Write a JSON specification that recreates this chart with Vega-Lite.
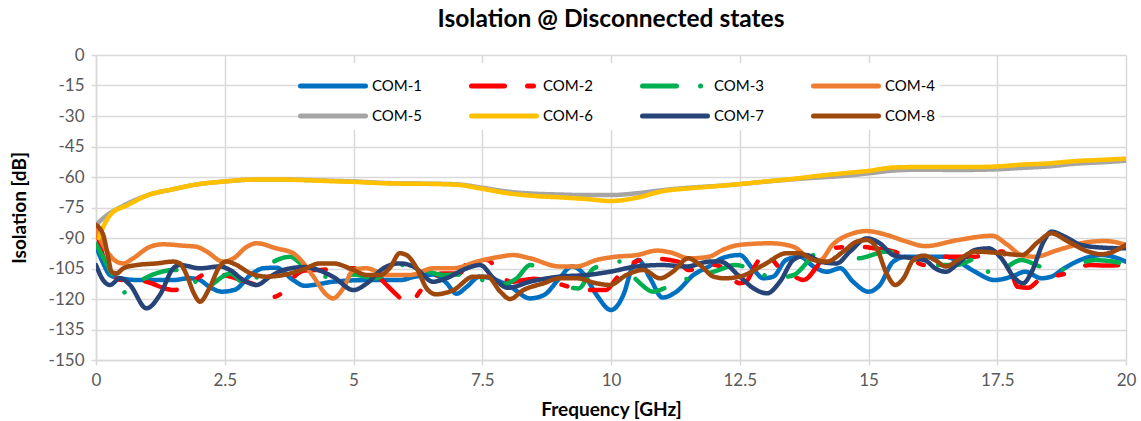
{
  "$schema": "https://vega.github.io/schema/vega-lite/v6.json",
  "width": 1030,
  "height": 305,
  "autosize": "none",
  "padding": {"left": 96, "top": 55, "right": 15, "bottom": 61},
  "background": "white",
  "title": {"text": "Isolation @ Disconnected states", "anchor": "middle", "fontSize": 24.5, "font": "Lato", "fontWeight": "bold", "color": "#000000", "offset": 14},
  "config": {
    "font": "Lato",
    "view": {"stroke": null},
    "axis": {
      "gridColor": "#D9D9D9", "gridWidth": 1.5, "domainColor": "#D9D9D9", "domainWidth": 1.5,
      "tickColor": "#D9D9D9", "tickWidth": 1.5, "tickSize": 5,
      "labelFont": "Lato", "labelFontSize": 17, "labelColor": "#595959", "labelPadding": 7,
      "titleFont": "Lato", "titleFontSize": 19, "titleFontWeight": "bold", "titleColor": "#000000"
    },
    "legend": {
      "orient": "none", "legendX": 214, "legendY": 8, "direction": "horizontal", "columns": 4,
      "symbolType": "M-2,0H2", "symbolSize": 1056, "symbolStrokeWidth": 5,
      "labelFont": "Lato", "labelFontSize": 15, "labelColor": "#000000", "labelOffset": 20,
      "columnPadding": 38, "rowPadding": 1, "fillColor": "white", "padding": 4, "title": null
    }
  },
  "data": {"values": [
    {"s":"COM-1","f":0,"v":-94},{"s":"COM-1","f":0.15,"v":-103},{"s":"COM-1","f":0.27,"v":-108.2},{"s":"COM-1","f":0.47,"v":-109.8},{"s":"COM-1","f":0.85,"v":-110.7},{"s":"COM-1","f":1.5,"v":-110.7},{"s":"COM-1","f":1.8,"v":-109.8},{"s":"COM-1","f":2.0,"v":-110.5},{"s":"COM-1","f":2.2,"v":-114},{"s":"COM-1","f":2.45,"v":-116.4},{"s":"COM-1","f":2.7,"v":-115.4},{"s":"COM-1","f":3.0,"v":-108.2},{"s":"COM-1","f":3.25,"v":-104.9},{"s":"COM-1","f":3.5,"v":-104.6},{"s":"COM-1","f":3.83,"v":-110.7},{"s":"COM-1","f":4.05,"v":-113.5},{"s":"COM-1","f":4.3,"v":-112.8},{"s":"COM-1","f":4.6,"v":-111.5},{"s":"COM-1","f":5.25,"v":-110.7},{"s":"COM-1","f":5.9,"v":-110.7},{"s":"COM-1","f":6.2,"v":-109},{"s":"COM-1","f":6.55,"v":-108},{"s":"COM-1","f":6.8,"v":-112},{"s":"COM-1","f":7.0,"v":-117.4},{"s":"COM-1","f":7.2,"v":-114},{"s":"COM-1","f":7.45,"v":-109},{"s":"COM-1","f":7.85,"v":-111.5},{"s":"COM-1","f":8.05,"v":-114},{"s":"COM-1","f":8.43,"v":-119.7},{"s":"COM-1","f":8.7,"v":-118},{"s":"COM-1","f":9.0,"v":-109.8},{"s":"COM-1","f":9.24,"v":-104},{"s":"COM-1","f":9.46,"v":-107.4},{"s":"COM-1","f":9.72,"v":-118},{"s":"COM-1","f":10.0,"v":-125.4},{"s":"COM-1","f":10.24,"v":-118},{"s":"COM-1","f":10.43,"v":-103.3},{"s":"COM-1","f":10.53,"v":-100.8},{"s":"COM-1","f":10.76,"v":-109.8},{"s":"COM-1","f":11.0,"v":-119.3},{"s":"COM-1","f":11.27,"v":-116.4},{"s":"COM-1","f":11.6,"v":-108.2},{"s":"COM-1","f":11.9,"v":-104},{"s":"COM-1","f":12.15,"v":-100},{"s":"COM-1","f":12.5,"v":-98.4},{"s":"COM-1","f":12.77,"v":-105.7},{"s":"COM-1","f":12.96,"v":-109.8},{"s":"COM-1","f":13.15,"v":-109},{"s":"COM-1","f":13.4,"v":-100.8},{"s":"COM-1","f":13.67,"v":-99.2},{"s":"COM-1","f":13.93,"v":-104},{"s":"COM-1","f":14.19,"v":-106.6},{"s":"COM-1","f":14.45,"v":-104.9},{"s":"COM-1","f":14.7,"v":-111.5},{"s":"COM-1","f":15.0,"v":-116.4},{"s":"COM-1","f":15.22,"v":-113.1},{"s":"COM-1","f":15.48,"v":-101.6},{"s":"COM-1","f":15.74,"v":-99.2},{"s":"COM-1","f":16.1,"v":-99.2},{"s":"COM-1","f":16.5,"v":-99.2},{"s":"COM-1","f":16.74,"v":-101.6},{"s":"COM-1","f":17.07,"v":-106.6},{"s":"COM-1","f":17.45,"v":-110.7},{"s":"COM-1","f":17.78,"v":-109},{"s":"COM-1","f":18.04,"v":-106.6},{"s":"COM-1","f":18.36,"v":-109.8},{"s":"COM-1","f":18.55,"v":-109},{"s":"COM-1","f":18.8,"v":-104.9},{"s":"COM-1","f":19.2,"v":-100},{"s":"COM-1","f":19.53,"v":-98.4},{"s":"COM-1","f":20,"v":-101.6},

    {"s":"COM-2","f":0,"v":-85},{"s":"COM-2","f":0.15,"v":-100},{"s":"COM-2","f":0.3,"v":-108},{"s":"COM-2","f":0.5,"v":-110.7},{"s":"COM-2","f":0.8,"v":-110.7},{"s":"COM-2","f":1.1,"v":-112.5},{"s":"COM-2","f":1.3,"v":-114.5},{"s":"COM-2","f":1.5,"v":-115.6},{"s":"COM-2","f":1.76,"v":-114},{"s":"COM-2","f":2.08,"v":-108.2},{"s":"COM-2","f":2.3,"v":-107.5},{"s":"COM-2","f":2.6,"v":-109},{"s":"COM-2","f":2.85,"v":-111},{"s":"COM-2","f":3.1,"v":-113.1},{"s":"COM-2","f":3.3,"v":-117},{"s":"COM-2","f":3.44,"v":-119},{"s":"COM-2","f":3.65,"v":-116},{"s":"COM-2","f":3.85,"v":-109},{"s":"COM-2","f":4.05,"v":-106},{"s":"COM-2","f":4.35,"v":-105.7},{"s":"COM-2","f":4.97,"v":-104.9},{"s":"COM-2","f":5.35,"v":-105.7},{"s":"COM-2","f":5.6,"v":-112},{"s":"COM-2","f":5.84,"v":-118},{"s":"COM-2","f":6.0,"v":-121.5},{"s":"COM-2","f":6.1,"v":-122},{"s":"COM-2","f":6.3,"v":-116},{"s":"COM-2","f":6.55,"v":-109.8},{"s":"COM-2","f":6.7,"v":-107.4},{"s":"COM-2","f":7.07,"v":-107.4},{"s":"COM-2","f":7.2,"v":-102.5},{"s":"COM-2","f":7.6,"v":-100.8},{"s":"COM-2","f":7.85,"v":-108},{"s":"COM-2","f":8.05,"v":-111.5},{"s":"COM-2","f":8.5,"v":-110},{"s":"COM-2","f":8.9,"v":-112},{"s":"COM-2","f":9.5,"v":-115.6},{"s":"COM-2","f":9.9,"v":-115.6},{"s":"COM-2","f":10.1,"v":-110},{"s":"COM-2","f":10.3,"v":-104},{"s":"COM-2","f":10.5,"v":-101.5},{"s":"COM-2","f":10.7,"v":-100},{"s":"COM-2","f":11.3,"v":-101.6},{"s":"COM-2","f":11.5,"v":-105.7},{"s":"COM-2","f":11.8,"v":-104.5},{"s":"COM-2","f":12.0,"v":-103.3},{"s":"COM-2","f":12.2,"v":-105},{"s":"COM-2","f":12.5,"v":-112.3},{"s":"COM-2","f":12.64,"v":-111},{"s":"COM-2","f":12.77,"v":-105},{"s":"COM-2","f":13.0,"v":-97.5},{"s":"COM-2","f":13.25,"v":-104},{"s":"COM-2","f":13.5,"v":-108},{"s":"COM-2","f":13.74,"v":-110.7},{"s":"COM-2","f":14.0,"v":-104},{"s":"COM-2","f":14.25,"v":-95},{"s":"COM-2","f":14.84,"v":-94.3},{"s":"COM-2","f":15.1,"v":-95},{"s":"COM-2","f":15.5,"v":-96.7},{"s":"COM-2","f":15.8,"v":-100},{"s":"COM-2","f":16.1,"v":-103.3},{"s":"COM-2","f":16.5,"v":-99.2},{"s":"COM-2","f":17.07,"v":-99.2},{"s":"COM-2","f":17.4,"v":-96.7},{"s":"COM-2","f":17.6,"v":-96.7},{"s":"COM-2","f":17.75,"v":-105},{"s":"COM-2","f":17.9,"v":-114},{"s":"COM-2","f":18.1,"v":-114.5},{"s":"COM-2","f":18.36,"v":-109.8},{"s":"COM-2","f":18.75,"v":-108},{"s":"COM-2","f":19.3,"v":-103.3},{"s":"COM-2","f":19.6,"v":-103.5},{"s":"COM-2","f":20,"v":-103.3},

    {"s":"COM-3","f":0,"v":-93},{"s":"COM-3","f":0.15,"v":-100},{"s":"COM-3","f":0.27,"v":-105.7},{"s":"COM-3","f":0.52,"v":-117},{"s":"COM-3","f":0.7,"v":-113},{"s":"COM-3","f":0.82,"v":-111.5},{"s":"COM-3","f":1.1,"v":-108},{"s":"COM-3","f":1.5,"v":-105.7},{"s":"COM-3","f":1.8,"v":-107},{"s":"COM-3","f":2.08,"v":-116.4},{"s":"COM-3","f":2.3,"v":-112},{"s":"COM-3","f":2.6,"v":-107.4},{"s":"COM-3","f":2.96,"v":-114},{"s":"COM-3","f":3.2,"v":-106.6},{"s":"COM-3","f":3.5,"v":-101},{"s":"COM-3","f":3.77,"v":-99.2},{"s":"COM-3","f":4.0,"v":-103},{"s":"COM-3","f":4.4,"v":-109},{"s":"COM-3","f":4.7,"v":-109},{"s":"COM-3","f":5.0,"v":-108},{"s":"COM-3","f":5.4,"v":-109.8},{"s":"COM-3","f":5.65,"v":-107},{"s":"COM-3","f":5.8,"v":-103.3},{"s":"COM-3","f":6.1,"v":-103.3},{"s":"COM-3","f":6.4,"v":-106},{"s":"COM-3","f":6.75,"v":-108.2},{"s":"COM-3","f":7.0,"v":-108},{"s":"COM-3","f":7.3,"v":-109},{"s":"COM-3","f":7.85,"v":-113},{"s":"COM-3","f":8.17,"v":-109.8},{"s":"COM-3","f":8.43,"v":-103.3},{"s":"COM-3","f":8.7,"v":-106},{"s":"COM-3","f":8.95,"v":-112.3},{"s":"COM-3","f":9.37,"v":-114.8},{"s":"COM-3","f":9.66,"v":-105},{"s":"COM-3","f":10.17,"v":-101.6},{"s":"COM-3","f":10.5,"v":-110.7},{"s":"COM-3","f":10.82,"v":-116.4},{"s":"COM-3","f":11.1,"v":-114},{"s":"COM-3","f":11.4,"v":-110.7},{"s":"COM-3","f":11.78,"v":-108.2},{"s":"COM-3","f":12.1,"v":-105.7},{"s":"COM-3","f":12.4,"v":-103.3},{"s":"COM-3","f":12.8,"v":-106},{"s":"COM-3","f":13.15,"v":-109.8},{"s":"COM-3","f":13.55,"v":-108.2},{"s":"COM-3","f":14.06,"v":-96.7},{"s":"COM-3","f":14.4,"v":-100},{"s":"COM-3","f":14.8,"v":-100},{"s":"COM-3","f":15.35,"v":-96.7},{"s":"COM-3","f":15.8,"v":-100},{"s":"COM-3","f":16.3,"v":-103.3},{"s":"COM-3","f":16.7,"v":-103.3},{"s":"COM-3","f":17.13,"v":-100},{"s":"COM-3","f":17.4,"v":-108.2},{"s":"COM-3","f":17.97,"v":-100.8},{"s":"COM-3","f":18.33,"v":-104},{"s":"COM-3","f":18.7,"v":-105.7},{"s":"COM-3","f":19.4,"v":-100.8},{"s":"COM-3","f":19.75,"v":-101.6},{"s":"COM-3","f":20,"v":-103},

    {"s":"COM-4","f":0,"v":-86},{"s":"COM-4","f":0.2,"v":-96},{"s":"COM-4","f":0.4,"v":-101.6},{"s":"COM-4","f":0.53,"v":-102.5},{"s":"COM-4","f":0.72,"v":-100},{"s":"COM-4","f":1.05,"v":-94.3},{"s":"COM-4","f":1.3,"v":-93.1},{"s":"COM-4","f":1.7,"v":-93.8},{"s":"COM-4","f":1.95,"v":-94.3},{"s":"COM-4","f":2.15,"v":-96.7},{"s":"COM-4","f":2.47,"v":-101.6},{"s":"COM-4","f":2.67,"v":-100},{"s":"COM-4","f":2.93,"v":-94.3},{"s":"COM-4","f":3.12,"v":-92.6},{"s":"COM-4","f":3.5,"v":-95.1},{"s":"COM-4","f":3.83,"v":-97.5},{"s":"COM-4","f":3.98,"v":-101},{"s":"COM-4","f":4.2,"v":-108.2},{"s":"COM-4","f":4.48,"v":-118},{"s":"COM-4","f":4.6,"v":-119.7},{"s":"COM-4","f":4.8,"v":-114.8},{"s":"COM-4","f":5.0,"v":-105.7},{"s":"COM-4","f":5.25,"v":-104.9},{"s":"COM-4","f":5.65,"v":-108.2},{"s":"COM-4","f":6.1,"v":-108.2},{"s":"COM-4","f":6.55,"v":-104.9},{"s":"COM-4","f":6.94,"v":-104.9},{"s":"COM-4","f":7.4,"v":-101.6},{"s":"COM-4","f":7.85,"v":-99.2},{"s":"COM-4","f":8.1,"v":-98.4},{"s":"COM-4","f":8.43,"v":-100},{"s":"COM-4","f":9.0,"v":-104},{"s":"COM-4","f":9.33,"v":-104},{"s":"COM-4","f":9.72,"v":-100.8},{"s":"COM-4","f":10.1,"v":-99.2},{"s":"COM-4","f":10.5,"v":-98.4},{"s":"COM-4","f":10.9,"v":-96.2},{"s":"COM-4","f":11.15,"v":-97.1},{"s":"COM-4","f":11.53,"v":-100},{"s":"COM-4","f":11.9,"v":-99.2},{"s":"COM-4","f":12.2,"v":-95.5},{"s":"COM-4","f":12.5,"v":-93.4},{"s":"COM-4","f":13.1,"v":-92.6},{"s":"COM-4","f":13.54,"v":-94.3},{"s":"COM-4","f":13.86,"v":-100},{"s":"COM-4","f":14.06,"v":-100.8},{"s":"COM-4","f":14.3,"v":-93.4},{"s":"COM-4","f":14.7,"v":-87.7},{"s":"COM-4","f":14.96,"v":-86.6},{"s":"COM-4","f":15.35,"v":-88.5},{"s":"COM-4","f":15.74,"v":-91.8},{"s":"COM-4","f":16.1,"v":-94},{"s":"COM-4","f":16.74,"v":-91},{"s":"COM-4","f":17.4,"v":-88.9},{"s":"COM-4","f":17.7,"v":-93.4},{"s":"COM-4","f":17.97,"v":-98.4},{"s":"COM-4","f":18.23,"v":-99.2},{"s":"COM-4","f":18.68,"v":-95.9},{"s":"COM-4","f":19.33,"v":-91.8},{"s":"COM-4","f":19.6,"v":-91.5},{"s":"COM-4","f":20,"v":-93.4},

    {"s":"COM-5","f":0,"v":-83.6},{"s":"COM-5","f":0.2,"v":-79},{"s":"COM-5","f":0.5,"v":-74.5},{"s":"COM-5","f":1.0,"v":-69},{"s":"COM-5","f":1.5,"v":-66},{"s":"COM-5","f":2.0,"v":-63.5},{"s":"COM-5","f":2.5,"v":-62.2},{"s":"COM-5","f":3.0,"v":-61.3},{"s":"COM-5","f":3.5,"v":-61.2},{"s":"COM-5","f":4,"v":-61.4},{"s":"COM-5","f":4.5,"v":-61.8},{"s":"COM-5","f":5,"v":-62.2},{"s":"COM-5","f":5.5,"v":-62.8},{"s":"COM-5","f":6,"v":-63.2},{"s":"COM-5","f":6.5,"v":-63.3},{"s":"COM-5","f":7,"v":-63.6},{"s":"COM-5","f":7.5,"v":-65.3},{"s":"COM-5","f":8,"v":-67.2},{"s":"COM-5","f":8.5,"v":-68.2},{"s":"COM-5","f":9,"v":-68.6},{"s":"COM-5","f":9.5,"v":-68.9},{"s":"COM-5","f":10,"v":-68.9},{"s":"COM-5","f":10.5,"v":-68},{"s":"COM-5","f":11,"v":-66.5},{"s":"COM-5","f":11.5,"v":-65.3},{"s":"COM-5","f":12,"v":-64.5},{"s":"COM-5","f":12.5,"v":-63.5},{"s":"COM-5","f":13,"v":-62.3},{"s":"COM-5","f":13.5,"v":-61.2},{"s":"COM-5","f":14,"v":-60.3},{"s":"COM-5","f":14.5,"v":-59.5},{"s":"COM-5","f":15,"v":-58.2},{"s":"COM-5","f":15.5,"v":-56.8},{"s":"COM-5","f":16,"v":-56.4},{"s":"COM-5","f":16.5,"v":-56.5},{"s":"COM-5","f":17,"v":-56.5},{"s":"COM-5","f":17.5,"v":-56.2},{"s":"COM-5","f":18,"v":-55.5},{"s":"COM-5","f":18.5,"v":-54.8},{"s":"COM-5","f":19,"v":-53.5},{"s":"COM-5","f":19.5,"v":-52.8},{"s":"COM-5","f":20,"v":-52},

    {"s":"COM-6","f":0.05,"v":-90},{"s":"COM-6","f":0.15,"v":-84},{"s":"COM-6","f":0.3,"v":-78},{"s":"COM-6","f":0.6,"v":-74},{"s":"COM-6","f":1.0,"v":-69},{"s":"COM-6","f":1.5,"v":-66},{"s":"COM-6","f":2.0,"v":-63.5},{"s":"COM-6","f":2.5,"v":-62.2},{"s":"COM-6","f":3.0,"v":-61.3},{"s":"COM-6","f":3.5,"v":-61.2},{"s":"COM-6","f":4,"v":-61.5},{"s":"COM-6","f":4.5,"v":-62},{"s":"COM-6","f":5,"v":-62.4},{"s":"COM-6","f":5.5,"v":-63},{"s":"COM-6","f":6,"v":-63.3},{"s":"COM-6","f":6.5,"v":-63.4},{"s":"COM-6","f":7,"v":-63.8},{"s":"COM-6","f":7.5,"v":-65.8},{"s":"COM-6","f":8,"v":-68},{"s":"COM-6","f":8.5,"v":-69.3},{"s":"COM-6","f":9,"v":-70},{"s":"COM-6","f":9.5,"v":-70.8},{"s":"COM-6","f":10,"v":-71.8},{"s":"COM-6","f":10.5,"v":-70.2},{"s":"COM-6","f":11,"v":-67},{"s":"COM-6","f":11.5,"v":-65.6},{"s":"COM-6","f":12,"v":-64.6},{"s":"COM-6","f":12.5,"v":-63.5},{"s":"COM-6","f":13,"v":-62.2},{"s":"COM-6","f":13.5,"v":-61},{"s":"COM-6","f":14,"v":-59.5},{"s":"COM-6","f":14.5,"v":-58.2},{"s":"COM-6","f":15,"v":-57},{"s":"COM-6","f":15.5,"v":-55.3},{"s":"COM-6","f":16,"v":-55.1},{"s":"COM-6","f":16.5,"v":-55.1},{"s":"COM-6","f":17,"v":-55.1},{"s":"COM-6","f":17.5,"v":-54.8},{"s":"COM-6","f":18,"v":-53.9},{"s":"COM-6","f":18.5,"v":-53.3},{"s":"COM-6","f":19,"v":-52.2},{"s":"COM-6","f":19.5,"v":-51.6},{"s":"COM-6","f":20,"v":-51},

    {"s":"COM-7","f":0,"v":-103.3},{"s":"COM-7","f":0.12,"v":-110},{"s":"COM-7","f":0.27,"v":-113.1},{"s":"COM-7","f":0.47,"v":-109.8},{"s":"COM-7","f":0.66,"v":-113.1},{"s":"COM-7","f":0.98,"v":-124.6},{"s":"COM-7","f":1.24,"v":-118},{"s":"COM-7","f":1.5,"v":-104.9},{"s":"COM-7","f":1.63,"v":-103.3},{"s":"COM-7","f":2.02,"v":-104.9},{"s":"COM-7","f":2.4,"v":-104},{"s":"COM-7","f":2.6,"v":-105.7},{"s":"COM-7","f":2.86,"v":-110.7},{"s":"COM-7","f":3.12,"v":-113.1},{"s":"COM-7","f":3.38,"v":-109},{"s":"COM-7","f":3.64,"v":-105.7},{"s":"COM-7","f":4.06,"v":-104.3},{"s":"COM-7","f":4.2,"v":-104.9},{"s":"COM-7","f":4.6,"v":-109},{"s":"COM-7","f":5.0,"v":-115.6},{"s":"COM-7","f":5.26,"v":-112.3},{"s":"COM-7","f":5.58,"v":-104.9},{"s":"COM-7","f":5.9,"v":-102.5},{"s":"COM-7","f":6.16,"v":-104},{"s":"COM-7","f":6.55,"v":-111.5},{"s":"COM-7","f":6.8,"v":-109.8},{"s":"COM-7","f":7.2,"v":-104.9},{"s":"COM-7","f":7.46,"v":-103.3},{"s":"COM-7","f":7.72,"v":-109.8},{"s":"COM-7","f":8.0,"v":-114.5},{"s":"COM-7","f":8.43,"v":-111.5},{"s":"COM-7","f":9.0,"v":-109},{"s":"COM-7","f":9.53,"v":-108.2},{"s":"COM-7","f":9.98,"v":-106.6},{"s":"COM-7","f":10.5,"v":-104},{"s":"COM-7","f":11,"v":-103.3},{"s":"COM-7","f":11.47,"v":-104},{"s":"COM-7","f":11.92,"v":-101.6},{"s":"COM-7","f":12.12,"v":-101.6},{"s":"COM-7","f":12.5,"v":-109},{"s":"COM-7","f":12.77,"v":-114.8},{"s":"COM-7","f":13.03,"v":-117.2},{"s":"COM-7","f":13.28,"v":-111.5},{"s":"COM-7","f":13.54,"v":-100.8},{"s":"COM-7","f":13.8,"v":-98.4},{"s":"COM-7","f":14.06,"v":-101.6},{"s":"COM-7","f":14.38,"v":-102.5},{"s":"COM-7","f":14.64,"v":-96.7},{"s":"COM-7","f":14.97,"v":-90.2},{"s":"COM-7","f":15.22,"v":-92.6},{"s":"COM-7","f":15.48,"v":-98.4},{"s":"COM-7","f":15.87,"v":-100},{"s":"COM-7","f":16.1,"v":-101},{"s":"COM-7","f":16.3,"v":-105},{"s":"COM-7","f":16.5,"v":-106.6},{"s":"COM-7","f":16.74,"v":-102.5},{"s":"COM-7","f":17.07,"v":-95.9},{"s":"COM-7","f":17.33,"v":-95.1},{"s":"COM-7","f":17.58,"v":-100},{"s":"COM-7","f":17.84,"v":-109.8},{"s":"COM-7","f":18.0,"v":-112.3},{"s":"COM-7","f":18.17,"v":-106.6},{"s":"COM-7","f":18.4,"v":-91.8},{"s":"COM-7","f":18.55,"v":-86.9},{"s":"COM-7","f":18.81,"v":-89.3},{"s":"COM-7","f":19.13,"v":-93.4},{"s":"COM-7","f":19.59,"v":-94.8},{"s":"COM-7","f":20,"v":-95.1},

    {"s":"COM-8","f":0,"v":-83.6},{"s":"COM-8","f":0.14,"v":-88.5},{"s":"COM-8","f":0.24,"v":-100},{"s":"COM-8","f":0.3,"v":-106.6},{"s":"COM-8","f":0.4,"v":-107.4},{"s":"COM-8","f":0.53,"v":-104.9},{"s":"COM-8","f":0.79,"v":-103.3},{"s":"COM-8","f":1.18,"v":-102.5},{"s":"COM-8","f":1.5,"v":-101.6},{"s":"COM-8","f":1.63,"v":-102.5},{"s":"COM-8","f":1.76,"v":-108.2},{"s":"COM-8","f":1.9,"v":-117.2},{"s":"COM-8","f":2.02,"v":-121.3},{"s":"COM-8","f":2.2,"v":-114.8},{"s":"COM-8","f":2.4,"v":-104},{"s":"COM-8","f":2.54,"v":-101.6},{"s":"COM-8","f":2.73,"v":-103.3},{"s":"COM-8","f":3.0,"v":-107.4},{"s":"COM-8","f":3.31,"v":-109},{"s":"COM-8","f":3.64,"v":-108.2},{"s":"COM-8","f":4.0,"v":-105.7},{"s":"COM-8","f":4.35,"v":-102.5},{"s":"COM-8","f":4.6,"v":-102.5},{"s":"COM-8","f":4.93,"v":-104.9},{"s":"COM-8","f":5.26,"v":-108.2},{"s":"COM-8","f":5.52,"v":-108.2},{"s":"COM-8","f":5.7,"v":-104.9},{"s":"COM-8","f":5.9,"v":-97.5},{"s":"COM-8","f":6.03,"v":-98.4},{"s":"COM-8","f":6.23,"v":-104.9},{"s":"COM-8","f":6.42,"v":-114.8},{"s":"COM-8","f":6.6,"v":-117.7},{"s":"COM-8","f":6.94,"v":-115.6},{"s":"COM-8","f":7.33,"v":-109},{"s":"COM-8","f":7.6,"v":-109},{"s":"COM-8","f":7.85,"v":-116.4},{"s":"COM-8","f":8.04,"v":-120},{"s":"COM-8","f":8.3,"v":-115.6},{"s":"COM-8","f":8.69,"v":-112.3},{"s":"COM-8","f":9.0,"v":-109.8},{"s":"COM-8","f":9.33,"v":-109.8},{"s":"COM-8","f":9.72,"v":-112.3},{"s":"COM-8","f":9.98,"v":-113.1},{"s":"COM-8","f":10.3,"v":-108.2},{"s":"COM-8","f":10.63,"v":-105.7},{"s":"COM-8","f":10.95,"v":-109.8},{"s":"COM-8","f":11.2,"v":-106.6},{"s":"COM-8","f":11.5,"v":-100},{"s":"COM-8","f":11.73,"v":-103.3},{"s":"COM-8","f":11.99,"v":-109},{"s":"COM-8","f":12.2,"v":-109.8},{"s":"COM-8","f":12.5,"v":-109},{"s":"COM-8","f":12.96,"v":-103.3},{"s":"COM-8","f":13.41,"v":-97.5},{"s":"COM-8","f":13.67,"v":-97.5},{"s":"COM-8","f":13.93,"v":-100.8},{"s":"COM-8","f":14.19,"v":-101.6},{"s":"COM-8","f":14.51,"v":-96.7},{"s":"COM-8","f":14.77,"v":-91.8},{"s":"COM-8","f":14.97,"v":-91},{"s":"COM-8","f":15.16,"v":-95.1},{"s":"COM-8","f":15.35,"v":-107.4},{"s":"COM-8","f":15.52,"v":-113.1},{"s":"COM-8","f":15.68,"v":-109.8},{"s":"COM-8","f":15.87,"v":-100.8},{"s":"COM-8","f":16.07,"v":-98.7},{"s":"COM-8","f":16.3,"v":-101},{"s":"COM-8","f":16.5,"v":-104},{"s":"COM-8","f":16.74,"v":-100.8},{"s":"COM-8","f":17.07,"v":-96.7},{"s":"COM-8","f":17.58,"v":-97.5},{"s":"COM-8","f":17.97,"v":-98.4},{"s":"COM-8","f":18.3,"v":-91.8},{"s":"COM-8","f":18.55,"v":-87.7},{"s":"COM-8","f":18.88,"v":-91.8},{"s":"COM-8","f":19.27,"v":-96.7},{"s":"COM-8","f":19.53,"v":-98},{"s":"COM-8","f":20,"v":-93.4}
  ]},
  "mark": {"type": "line", "interpolate": "monotone", "strokeWidth": 4.5, "strokeCap": "round", "strokeJoin": "round", "clip": true},
  "encoding": {
    "x": {"field": "f", "type": "quantitative", "title": "Frequency [GHz]",
      "scale": {"domain": [0, 20], "nice": false, "zero": false},
      "axis": {"values": [0, 2.5, 5, 7.5, 10, 12.5, 15, 17.5, 20], "labelExpr": "'' + datum.value", "titlePadding": 12, "labelFlush": false}},
    "y": {"field": "v", "type": "quantitative", "title": "Isolation [dB]",
      "scale": {"domain": [-150, 0], "nice": false, "zero": false},
      "axis": {"values": [0, -15, -30, -45, -60, -75, -90, -105, -120, -135, -150], "labelExpr": "'' + datum.value", "titlePadding": 19, "labelFlush": false}},
    "color": {"field": "s", "type": "nominal",
      "scale": {"domain": ["COM-1","COM-2","COM-3","COM-4","COM-5","COM-6","COM-7","COM-8"],
        "range": ["#0070C0","#FF0000","#00B050","#ED7D31","#A5A5A5","#FFC000","#264478","#9E480E"]},
      "legend": {"encode": {"symbols": {"update": {"strokeCap": {"value": "round"}}}}}},
    "strokeDash": {"field": "s", "type": "nominal",
      "scale": {"domain": ["COM-1","COM-2","COM-3","COM-4","COM-5","COM-6","COM-7","COM-8"],
        "range": [[1,0],[33,23,6,23],[34,24,0.1,24],[1,0],[1,0],[1,0],[1,0],[1,0]]}},
    "order": {"field": "f"}
  }
}
